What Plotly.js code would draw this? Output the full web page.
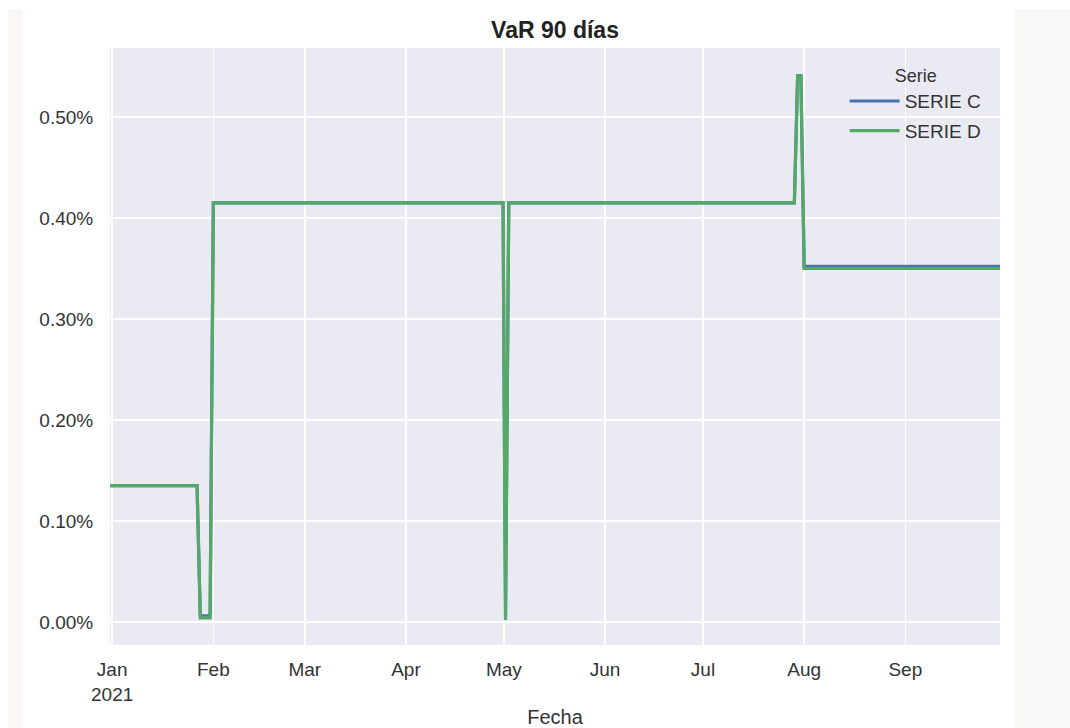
<!DOCTYPE html>
<html>
<head>
<meta charset="utf-8">
<script src="https://cdn.plot.ly/plotly-3.0.1.min.js"></script>
<style>
  html, body { margin: 0; padding: 0; background: #ffffff; }
  #wrap { position: relative; width: 1070px; height: 728px; overflow: hidden; }
  .strip { position: absolute; background: #f9f8f7; }
  #chart { position: absolute; left: 0; top: 0; width: 1070px; height: 728px; }
</style>
</head>
<body>
<div id="wrap">
  <div class="strip" style="left:8px; top:9px; width:15px; height:719px;"></div>
  <div class="strip" style="left:1015px; top:9px; width:55px; height:719px;"></div>
  <div id="chart"></div>
</div>
<script>
// ---- data (values in %) ----
const datesC = ['2020-12-31', '2021-01-27', '2021-01-28', '2021-01-31', '2021-02-01', '2021-04-30 18:00', '2021-05-01 12:00', '2021-05-02 12:00', '2021-07-29', '2021-07-30', '2021-07-31', '2021-08-01', '2021-09-30'];
const serieC = [0.135, 0.135, 0.006, 0.006, 0.415, 0.415, 0.003, 0.415, 0.415, 0.541, 0.541, 0.352, 0.352];
const datesD = ['2020-12-31', '2021-01-27', '2021-01-28', '2021-01-31', '2021-02-01', '2021-04-30 18:00', '2021-05-01 12:00', '2021-05-02 12:00', '2021-07-29', '2021-07-30', '2021-07-31', '2021-08-01', '2021-09-30'];
const serieD = [0.135, 0.135, 0.004, 0.004, 0.415, 0.415, 0.002, 0.415, 0.415, 0.541, 0.541, 0.350, 0.350];
const xTickVals = ['2021-01-01', '2021-02-01', '2021-03-01', '2021-04-01', '2021-05-01', '2021-06-01', '2021-07-01', '2021-08-01', '2021-09-01'];
const xTickText = ['Jan<br>2021', 'Feb', 'Mar', 'Apr', 'May', 'Jun', 'Jul', 'Aug', 'Sep'];
const yTickVals = [0, 0.1, 0.2, 0.3, 0.4, 0.5];
const yTickText = ['0.00%', '0.10%', '0.20%', '0.30%', '0.40%', '0.50%'];
const seriesNames = ['SERIE C', 'SERIE D'];

const FONT = 'Liberation Sans, Arial, Helvetica, sans-serif';

const traces = [
  { x: datesC, y: serieC, name: seriesNames[0], type: 'scatter', mode: 'lines',
    legendgroup: 'c', line: { color: '#4c72b0', width: 3.2 } },
  { x: datesD, y: serieD, name: seriesNames[1], type: 'scatter', mode: 'lines',
    legendgroup: 'd', line: { color: '#55a868', width: 3.2 } }
];

const layout = {
  width: 1070, height: 728,
  margin: { l: 110, r: 70, t: 48, b: 83 },
  paper_bgcolor: 'rgba(0,0,0,0)',
  plot_bgcolor: '#eaeaf2',
  font: { family: FONT, size: 19, color: '#333333' },
  title: { text: '<b>VaR 90 días</b>', x: 0.5, xanchor: 'center', y: 0.959, yanchor: 'middle',
           xref: 'paper', font: { family: FONT, size: 23, color: '#222222' } },
  showlegend: true,
  legend: {
    x: 0.985, y: 0.982, xanchor: 'right', yanchor: 'top',
    bgcolor: 'rgba(0,0,0,0)', borderwidth: 0,
    font: { family: FONT, size: 19, color: '#333333' },
    title: { text: 'Serie', side: 'top center', font: { family: FONT, size: 18, color: '#333333' } },
    traceorder: 'grouped', tracegroupgap: 2, itemwidth: 50
  },
  xaxis: {
    type: 'date',
    range: ['2020-12-31 08:00', '2021-09-30'],
    tickmode: 'array', tickvals: xTickVals, ticktext: xTickText,
    showgrid: true, gridcolor: '#ffffff', gridwidth: 1.6,
    zeroline: false, showline: false,
    ticks: 'outside', ticklen: 7, tickcolor: 'rgba(0,0,0,0)',
    tickfont: { family: FONT, size: 19, color: '#333333' },
    title: { text: 'Fecha', font: { family: FONT, size: 20, color: '#333333' }, standoff: 8 }
  },
  yaxis: {
    range: [-0.0228, 0.5683],
    tickmode: 'array', tickvals: yTickVals, ticktext: yTickText,
    showgrid: true, gridcolor: '#ffffff', gridwidth: 1.6,
    zeroline: false, showline: false,
    ticks: 'outside', ticklen: 12, tickcolor: 'rgba(0,0,0,0)',
    tickfont: { family: FONT, size: 19, color: '#333333' }
  }
};

Plotly.newPlot('chart', traces, layout, { displayModeBar: false, staticPlot: true });
</script>
</body>
</html>
